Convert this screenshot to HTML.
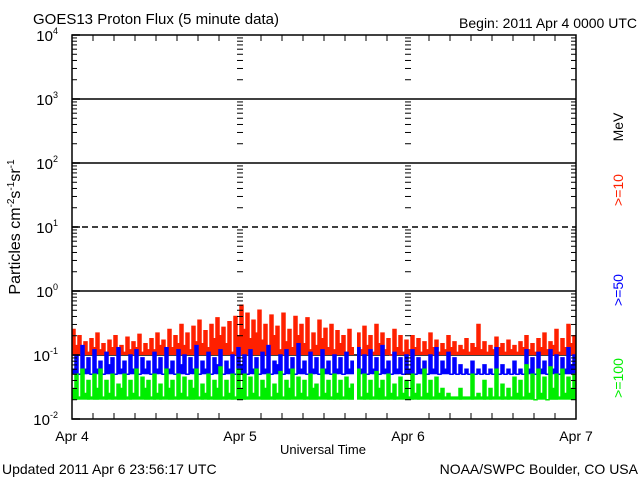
<!DOCTYPE html>
<html><head><meta charset="utf-8"><style>
html,body{margin:0;padding:0;background:#fff;}
svg{display:block;font-family:"Liberation Sans",sans-serif;}
</style></head><body>
<svg id="chart" width="640" height="480" viewBox="0 0 640 480">
<rect width="640" height="480" fill="#fff"/>
<text x="33" y="24" font-size="15">GOES13 Proton Flux (5 minute data)</text>
<text x="637" y="28" font-size="14" text-anchor="end">Begin: 2011 Apr 4 0000 UTC</text>
<text transform="translate(20,227) rotate(-90)" font-size="16" text-anchor="middle">Particles cm<tspan dy="-6" font-size="10">-2</tspan><tspan dy="6">s</tspan><tspan dy="-6" font-size="10">-1</tspan><tspan dy="6">sr</tspan><tspan dy="-6" font-size="10">-1</tspan></text>
<text x="323" y="454" font-size="13" text-anchor="middle">Universal Time</text>
<text x="2" y="474" font-size="14">Updated 2011 Apr  6 23:56:17 UTC</text>
<text x="638" y="474" font-size="14" text-anchor="end">NOAA/SWPC Boulder, CO USA</text>
<text transform="translate(623,127) rotate(-90)" font-size="14" text-anchor="middle" fill="#000">MeV</text>
<text transform="translate(623,190) rotate(-90)" font-size="14" text-anchor="middle" fill="#ff2000">&gt;=10</text>
<text transform="translate(623,290) rotate(-90)" font-size="14" text-anchor="middle" fill="#0000ff">&gt;=50</text>
<text transform="translate(623,378) rotate(-90)" font-size="14" text-anchor="middle" fill="#00ee00">&gt;=100</text>
<g id="grid"></g><g id="series"></g><g id="axes"></g>
</svg>
<script>
const dayLabels=["Apr 4","Apr 5","Apr 6","Apr 7"];
const decadeExps=[-2,-1,0,1,2,3,4];
const red=[0.25,0.14,0.2,0.12,0.16,0.11,0.18,0.13,0.22,0.12,0.15,0.11,0.17,0.13,0.2,0.12,0.14,0.11,0.19,0.12,0.16,0.13,0.21,0.11,0.15,0.12,
0.18,0.12,0.22,0.14,0.17,0.11,0.25,0.13,0.2,0.15,0.3,0.14,0.22,0.12,0.28,0.16,0.35,0.15,0.24,0.13,0.3,0.18,0.38,0.2,0.27,0.15,0.33,0.11,0.4,0.2,
0.6,0.25,0.45,0.18,0.35,0.22,0.5,0.17,0.3,0.14,0.42,0.2,0.28,0.12,0.45,0.16,0.25,0.13,0.4,0.2,0.3,0.15,0.38,0.12,0.22,0.14,0.35,0.18,0.26,0.13,
0.3,0.12,0.24,0.15,0.2,0.11,0.25,0.13,null,
0.22,0.12,0.28,0.14,0.2,0.11,0.3,0.15,0.22,0.12,0.18,0.1,0.25,0.13,0.2,0.11,0.17,
0.12,0.2,0.13,0.18,0.11,0.16,0.12,0.22,0.13,0.17,0.11,0.15,0.12,0.2,0.13,0.16,0.11,0.14,0.12,0.18,0.11,0.15,0.13,0.3,0.12,0.16,0.11,0.14,0.12,0.19,0.13,0.15,0.11,0.17,0.12,0.14,0.11,0.16,0.13,0.2,0.12,0.15,0.11,0.18,0.13,0.22,0.12,0.16,0.14,0.25,0.11,0.18,0.13,0.3,0.15,0.2];
const blue=[0.06,0.1,0.05,0.14,0.06,0.09,0.05,0.12,0.06,0.08,0.05,0.11,0.07,0.09,0.05,0.13,0.06,0.08,0.05,0.1,0.06,0.12,0.05,0.09,0.06,0.08,
0.05,0.11,0.06,0.09,0.05,0.13,0.06,0.08,0.05,0.12,0.07,0.1,0.05,0.09,0.06,0.14,0.05,0.08,0.06,0.11,0.05,0.09,0.07,0.12,0.05,0.08,0.06,0.1,0.05,0.13,
0.07,0.1,0.05,0.12,0.06,0.09,0.05,0.11,0.06,0.14,0.05,0.08,0.07,0.1,0.05,0.12,0.06,0.09,0.05,0.15,0.06,0.08,0.05,0.11,0.06,0.09,0.05,0.12,0.06,0.08,
0.05,0.1,0.06,0.09,0.05,0.11,0.06,0.08,null,
0.13,0.06,0.1,0.05,0.12,0.06,0.09,0.05,0.14,0.06,0.08,0.05,0.11,0.06,0.09,0.05,0.1,
0.06,0.12,0.05,0.09,0.06,0.08,0.05,0.1,0.06,0.13,0.05,0.08,0.06,0.11,0.05,0.09,0.05,0.07,0.05,0.06,0.05,0.08,0.05,0.06,0.05,0.07,0.05,0.06,0.05,0.13,
0.05,0.07,0.05,0.06,0.05,0.08,0.05,0.06,0.05,0.12,0.06,0.09,0.05,0.11,0.06,0.08,0.05,0.12,0.06,0.1,0.05,0.09,0.06,0.13,0.07,0.1];
const green=[0.03,0.05,0.022,0.06,0.025,0.04,0.022,0.05,0.03,0.06,0.022,0.04,0.025,0.05,0.022,0.035,0.03,0.05,0.022,0.04,0.025,0.06,0.022,0.045,0.03,0.04,
0.022,0.05,0.025,0.035,0.022,0.06,0.03,0.04,0.022,0.05,0.025,0.045,0.022,0.04,0.03,0.06,0.022,0.035,0.025,0.05,0.022,0.04,0.03,0.065,0.022,0.04,0.025,0.05,0.022,0.06,
0.03,0.05,0.022,0.045,0.025,0.06,0.022,0.04,0.03,0.05,0.022,0.035,0.025,0.055,0.022,0.04,0.03,0.06,0.022,0.045,0.025,0.04,0.022,0.05,0.03,0.035,0.022,0.06,0.025,0.04,
0.022,0.05,0.025,0.04,0.022,0.045,0.03,0.035,null,
0.06,0.022,0.05,0.025,0.04,0.022,0.055,0.03,0.04,0.022,0.05,0.025,0.035,0.022,0.045,0.025,0.04,
0.022,0.05,0.025,0.035,0.022,0.06,0.025,0.04,0.022,0.045,0.025,0.03,0.022,0.025,0.022,0.022,0.022,0.03,0.022,0.022,0.022,0.05,0.022,0.025,0.022,0.04,0.022,0.03,0.022,0.06,
0.022,0.035,0.022,0.03,0.022,0.045,0.025,0.04,0.022,0.07,0.025,0.05,0.02,0.06,0.025,0.045,0.02,0.065,0.03,0.05,0.022,0.06,0.025,0.045,0.03,0.05];

const L=72,R=576,T=35,B=419;
const NS="http://www.w3.org/2000/svg";
function y(v){return B-(Math.log10(v)+2)*(B-T)/6;}
function xDay(d){return L+d*(R-L)/3;}
function xIdx(i,n){return L+i*(R-L)/n;}
function mk(tag,attrs,parent){const e=document.createElementNS(NS,tag);for(const k in attrs)e.setAttribute(k,attrs[k]);parent.appendChild(e);return e;}
const grid=document.getElementById('grid'),ser=document.getElementById('series'),ax=document.getElementById('axes');

decadeExps.forEach(e=>{
  if(e===-2||e===4)return;
  const yy=y(Math.pow(10,e));
  const ln=mk('line',{x1:L,x2:R,y1:yy,y2:yy,stroke:'#000','stroke-width':1.5},grid);
  if(e===1)ln.setAttribute('stroke-dasharray','6,4');
  
  
});
[[red,'#ff2000','series-10mev'],[blue,'#0000ff','series-50mev'],[green,'#00ee00','series-100mev']].forEach(([arr,col,name])=>{
  const n=arr.length;
  const vals=arr.filter(v=>v!=null);
  const floorY=y(Math.min.apply(null,vals));
  const g=mk('g',{},ser);
  
  
  let d='',pen=false;
  arr.forEach((v,i)=>{
    if(v==null){pen=false;return;}
    const x0=xIdx(i,n),x1=xIdx(i+1,n),yy=y(v);
    const b=mk('rect',{x:x0.toFixed(1),y:yy.toFixed(1),width:(x1-x0).toFixed(1),height:Math.max(0,floorY-yy).toFixed(1),fill:col},g);
    
    
    d+=(pen?'L':'M')+x0.toFixed(1)+','+yy.toFixed(1)+'L'+x1.toFixed(1)+','+yy.toFixed(1);pen=true;
  });
  mk('path',{d:d,fill:'none',stroke:col,'stroke-width':1.5},g);
});
const fr=mk('rect',{x:L,y:T,width:R-L,height:B-T,fill:'none',stroke:'#000','stroke-width':1.5},ax);


const tickXs=[L,xDay(1),xDay(2),R];
decadeExps.forEach(e=>{
  if(e===4)return;
  for(let m=2;m<=9;m++){
    const yy=y(m*Math.pow(10,e));
    tickXs.forEach((tx,k)=>{
      const len=5;
      if(k===0)mk('line',{x1:tx,x2:tx+len,y1:yy,y2:yy,stroke:'#000','stroke-width':1},ax);
      else if(k===3)mk('line',{x1:tx-len,x2:tx,y1:yy,y2:yy,stroke:'#000','stroke-width':1},ax);
      else mk('line',{x1:tx-3,x2:tx+3,y1:yy,y2:yy,stroke:'#000','stroke-width':1},ax);
    });
  }
});
decadeExps.forEach(e=>{
  const yy=y(Math.pow(10,e));
  const t=mk('text',{x:58,y:yy+6,'font-size':15,'text-anchor':'end'},ax);
  t.textContent='10';
  const s=mk('tspan',{dy:-7,'font-size':9},t);s.textContent=String(e);
  
  
  mk('line',{x1:L,x2:L+8,y1:yy,y2:yy,stroke:'#000','stroke-width':1.5},ax);
});
for(let h=3;h<72;h+=3){
  const xx=L+h*(R-L)/72;
  if(h%24!==0){mk('line',{x1:xx,x2:xx,y1:B-6,y2:B,stroke:'#000','stroke-width':1},ax);
  mk('line',{x1:xx,x2:xx,y1:T,y2:T+6,stroke:'#000','stroke-width':1},ax);}
}
dayLabels.forEach((lab,d)=>{
  const t=mk('text',{x:xDay(d),y:441,'font-size':14,'text-anchor':'middle'},ax);
  t.textContent=lab;
  
  
});
</script>
</body></html>
